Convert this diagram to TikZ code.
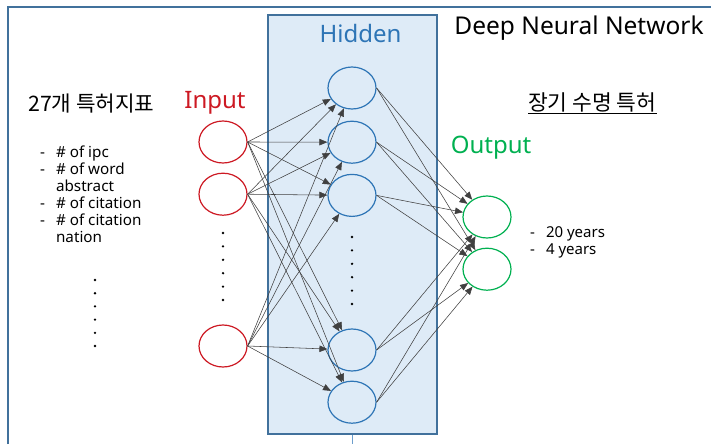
\documentclass[tikz,border=0pt]{standalone}
\usepackage{fontspec}
\setmainfont{Noto Sans}
\newfontfamily\kr{Noto Sans CJK KR}
\usetikzlibrary{arrows.meta, positioning, shapes.geometric}
\definecolor{inred}{RGB}{205,25,35}
\definecolor{hidblue}{RGB}{46,117,182}
\definecolor{outgreen}{RGB}{0,176,80}
\definecolor{framecol}{RGB}{65,113,156}
\definecolor{boxfill}{RGB}{222,235,247}

\begin{document}
\begin{tikzpicture}[x=1pt, y=-1pt,
	unit/.style={ellipse, draw, line width=1.2pt, minimum width=48pt, minimum height=42pt, inner sep=0pt},
	link/.style={draw=black!75, line width=0.55pt, -{Triangle[length=8pt,width=6.5pt]}},
	lbl/.style={inner sep=0pt}]
	\useasboundingbox (0,0) rectangle (711,444);
	\draw[framecol, line width=2.5pt] (8,444) -- (8,7) -- (711,7);
	% hidden layer box
	\node (hbox) [draw=framecol, fill=boxfill, line width=1.2pt, minimum width=169pt, minimum height=419pt, inner sep=0pt] at (352.5,224.5) {};
	\coordinate (tail) at (352.5,444);
	\draw[hidblue!70, line width=1pt] (hbox.south) -- (tail);
	% layers
	\node[unit, draw=inred, fill=white] (in1) at (223,142) {};
	\node[unit, draw=inred, fill=white] (in2) [below=9pt of in1] {};
	\node[unit, draw=inred, fill=white] (in3) at (223,346) {};
	\node[unit, draw=hidblue] (h1) at (352,88) {};
	\node[unit, draw=hidblue] (h2) [below=11pt of h1] {};
	\node[unit, draw=hidblue] (h3) [below=10pt of h2] {};
	\node[unit, draw=hidblue] (h4) at (352,350) {};
	\node[unit, draw=hidblue] (h5) [below=9pt of h4] {};
	\node[unit, draw=outgreen] (out1) at (487,217) {};
	\node[unit, draw=outgreen] (out2) [below=9pt of out1] {};
	\foreach \i in {1,2,3}
		\foreach \j in {1,...,5}
			\draw[link] (in\i.east) -- (h\j);
	\foreach \j in {1,...,5}
		\foreach \k in {1,2}
			\draw[link] (h\j.east) -- (out\k);
	% dots
	\foreach \k in {0,...,5} {
		\fill (223,233+13.4*\k) circle (1.3pt);
		\fill (352,237+13.4*\k) circle (1.3pt);
		\fill (95,280+13.2*\k) circle (1.3pt);
	}
	% labels
	\node[lbl, anchor=base] (title) at (579,35) {\fontsize{24.5}{28}\selectfont Deep Neural Network};
	\node[lbl, anchor=base, text=hidblue] (hidlabel) at (360.5,43) {\fontsize{24}{28}\selectfont Hidden};
	\node[lbl, anchor=base, text=inred] (inlabel) at (215,108) {\fontsize{24}{28}\selectfont Input};
	\node[lbl, anchor=base, text=outgreen] (outlabel) at (491,153) {\fontsize{24}{28}\selectfont Output};
	\node[lbl, anchor=base west] (krleft) at (28,111) {\kr\fontsize{21.3}{25}\selectfont 27개 특허지표};
	\node[lbl, anchor=base west] (krright) at (528,110) {\kr\fontsize{21.5}{25}\selectfont \underline{장기 수명 특허}};
	\node[lbl, anchor=base west] (leftlist) at (40,157) {\fontsize{15.2}{17}\selectfont
		\begin{tabular}[t]{@{}l@{\hspace{11pt}}l@{}}
			- & \# of ipc\\
			- & \# of word\\
			  & abstract\\
			- & \# of citation\\
			- & \# of citation\\
			  & nation
		\end{tabular}};
	\node[lbl, anchor=base west] (rightlist) at (530,237) {\fontsize{15}{17}\selectfont
		\begin{tabular}[t]{@{}l@{\hspace{11pt}}l@{}}
			- & 20 years\\
			- & 4 years
		\end{tabular}};
\end{tikzpicture}
\end{document}
